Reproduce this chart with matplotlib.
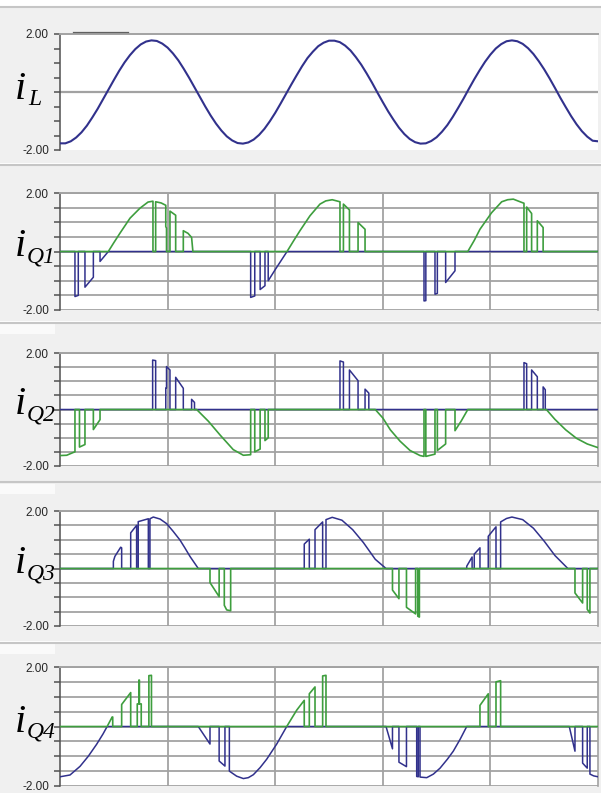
import numpy as np
import matplotlib
matplotlib.use('Agg')
import matplotlib.pyplot as plt
import matplotlib.transforms as mtransforms
from matplotlib.patches import Rectangle
from matplotlib.lines import Line2D

# --- values (time in grid divisions, current in A) ---

# inductor current, sampled every 0.05 division
il_t = np.round(np.arange(0, 101) * 0.05, 2)
il_y = [-1.77, -1.77, -1.70, -1.57, -1.39, -1.16, -0.88, -0.58, -0.25, 0.08,
        0.41, 0.73, 1.02, 1.27, 1.48, 1.64, 1.74, 1.78, 1.76, 1.67,
        1.53, 1.33, 1.09, 0.80, 0.49, 0.16, -0.17, -0.50, -0.81, -1.09,
        -1.33, -1.53, -1.67, -1.76, -1.78, -1.74, -1.64, -1.48, -1.27, -1.01,
        -0.72, -0.40, -0.07, 0.26, 0.58, 0.89, 1.17, 1.39, 1.58, 1.70,
        1.77, 1.77, 1.72, 1.60, 1.43, 1.20, 0.94, 0.64, 0.32, -0.02,
        -0.35, -0.67, -0.96, -1.23, -1.45, -1.62, -1.73, -1.78, -1.77, -1.69,
        -1.56, -1.37, -1.14, -0.86, -0.55, -0.23, 0.11, 0.44, 0.75, 1.04,
        1.29, 1.50, 1.65, 1.75, 1.78, 1.75, 1.66, 1.51, 1.31, 1.06,
        0.78, 0.47, 0.14, -0.20, -0.52, -0.83, -1.11, -1.35, -1.54, -1.68,
        -1.70]

q1_blue = [(0, 0), (0.139, 0), (0.139, -1.54), (0.17, -1.50), (0.17, 0),
           (0.232, 0), (0.232, -1.22), (0.31, -0.88), (0.31, 0), (0.372, 0),
           (0.372, -0.34), (0.449, 0),
           (1.772, 0), (1.772, -1.57), (1.81, -1.52), (1.81, 0), (1.86, 0),
           (1.86, -1.30), (1.905, -1.17), (1.905, 0), (1.935, 0), (1.935, -1.0),
           (2.0, -0.62), (2.11, 0),
           (3.383, 0), (3.383, -1.69), (3.40, -1.68), (3.40, 0), (3.485, 0),
           (3.485, -1.46), (3.507, -1.43), (3.507, 0), (3.584, 0), (3.584, -1.06),
           (3.671, -0.66), (3.671, 0), (5.0, 0)]
q1_green = [(0, 0), (0.449, 0), (0.50, 0.30), (0.558, 0.63), (0.651, 1.14), (0.743, 1.48),
            (0.818, 1.69), (0.864, 1.72), (0.864, 0), (0.889, 0), (0.889, 1.70),
            (0.94, 1.66), (0.983, 1.58), (0.983, 0.85), (0.99, 0.80), (0.99, 0),
            (1.022, 0), (1.022, 1.38), (1.075, 1.24), (1.075, 0), (1.146, 0),
            (1.146, 0.71), (1.19, 0.62), (1.223, 0.48), (1.235, 0),
            (2.11, 0), (2.17, 0.36), (2.23, 0.71), (2.323, 1.22), (2.416, 1.62),
            (2.47, 1.73), (2.53, 1.77), (2.602, 1.70), (2.602, 0), (2.634, 0),
            (2.634, 1.62), (2.69, 1.42), (2.69, 0), (2.77, 0), (2.77, 0.99),
            (2.835, 0.76), (2.835, 0),
            (3.79, 0), (3.85, 0.38), (3.903, 0.76), (4.012, 1.33), (4.105, 1.70),
            (4.16, 1.77), (4.213, 1.79), (4.29, 1.68), (4.312, 1.65), (4.312, 0),
            (4.337, 0), (4.337, 1.52), (4.383, 1.30), (4.383, 0), (4.436, 0),
            (4.436, 1.05), (4.49, 0.82), (4.49, 0), (5.0, 0)]

q2_blue = [(0, 0), (0.861, 0), (0.861, 1.75), (0.889, 1.73), (0.889, 0),
           (0.983, 0), (0.983, 0.76), (0.99, 0.76), (0.99, 1.52), (1.022, 1.40),
           (1.022, 0), (1.075, 0), (1.075, 1.14), (1.146, 0.75), (1.146, 0),
           (1.223, 0), (1.223, 0.36), (1.25, 0.25), (1.25, 0),
           (2.602, 0), (2.602, 1.72), (2.634, 1.68), (2.634, 0), (2.69, 0),
           (2.69, 1.40), (2.77, 1.02), (2.77, 0), (2.835, 0), (2.835, 0.72),
           (2.87, 0.58), (2.87, 0),
           (4.312, 0), (4.312, 1.66), (4.337, 1.62), (4.337, 0), (4.383, 0),
           (4.383, 1.40), (4.436, 1.16), (4.436, 0), (4.49, 0), (4.49, 0.80),
           (4.51, 0.70), (4.51, 0), (5.0, 0)]
q2_green = [(0, -1.63), (0.062, -1.62), (0.124, -1.52), (0.139, -1.50), (0.139, 0),
            (0.181, 0), (0.181, -1.33), (0.232, -1.24), (0.232, 0), (0.31, 0),
            (0.31, -0.71), (0.372, -0.36), (0.372, 0),
            (1.27, 0), (1.38, -0.42), (1.487, -0.90), (1.61, -1.42), (1.704, -1.62),
            (1.772, -1.60), (1.772, 0), (1.81, 0), (1.81, -1.50), (1.86, -1.40),
            (1.86, 0), (1.905, 0), (1.905, -1.10), (1.935, -1.00), (1.935, 0),
            (2.93, 0), (3.0, -0.30), (3.07, -0.72), (3.16, -1.12), (3.253, -1.45),
            (3.346, -1.63), (3.383, -1.66), (3.383, 0), (3.40, 0), (3.40, -1.66),
            (3.485, -1.58), (3.485, 0), (3.507, 0), (3.507, -1.45), (3.584, -1.22),
            (3.584, 0), (3.671, 0), (3.671, -0.75), (3.73, -0.40), (3.79, 0),
            (4.52, 0), (4.6, -0.35), (4.7, -0.72), (4.8, -1.02), (4.9, -1.22),
            (5.0, -1.35)]

q3_blue = [(0, 0), (0.496, 0), (0.496, 0.25), (0.51, 0.42), (0.564, 0.74),
           (0.573, 0.72), (0.573, 0), (0.657, 0), (0.657, 1.24), (0.712, 1.50),
           (0.712, 0), (0.727, 0), (0.727, 1.63), (0.821, 1.73), (0.821, 0),
           (0.836, 0), (0.836, 1.73), (0.867, 1.79), (0.93, 1.72), (0.991, 1.56),
           (1.05, 1.30), (1.115, 0.99), (1.16, 0.72), (1.208, 0.42), (1.285, 0),
           (2.27, 0), (2.27, 0.85), (2.317, 1.02), (2.317, 0), (2.37, 0),
           (2.37, 1.35), (2.441, 1.62), (2.441, 0), (2.472, 0), (2.472, 1.70),
           (2.53, 1.78), (2.62, 1.68), (2.72, 1.35), (2.82, 0.90), (2.93, 0.32),
           (3.03, 0),
           (3.78, 0), (3.78, 0.08), (3.83, 0.40), (3.83, 0), (3.85, 0), (3.85, 0.50),
           (3.903, 0.72), (3.903, 0), (3.98, 0), (3.98, 1.12), (4.052, 1.45),
           (4.052, 0), (4.095, 0), (4.095, 1.62), (4.15, 1.74), (4.2, 1.79),
           (4.3, 1.70), (4.4, 1.40), (4.5, 0.95), (4.6, 0.45), (4.72, 0), (5.0, 0)]
q3_green = [(0, 0), (1.394, 0), (1.394, -0.49), (1.479, -0.98), (1.479, 0),
            (1.527, 0), (1.527, -1.28), (1.549, -1.44), (1.586, -1.47), (1.586, 0),
            (3.09, 0), (3.09, -0.75), (3.15, -1.05), (3.15, 0), (3.22, 0),
            (3.22, -1.35), (3.305, -1.58), (3.305, 0), (3.325, 0), (3.325, -1.66),
            (3.34, -1.69), (3.34, 0),
            (4.786, 0), (4.786, -0.85), (4.857, -1.20), (4.857, 0), (4.9, 0),
            (4.9, -1.42), (4.925, -1.55), (4.925, 0), (5.0, 0)]

q4_blue = [(0, -1.69), (0.093, -1.63), (0.186, -1.34), (0.263, -1.00), (0.34, -0.60),
           (0.40, -0.25), (0.438, 0),
           (1.285, 0), (1.394, -0.59), (1.394, 0), (1.479, 0), (1.479, -1.16),
           (1.533, -1.33), (1.533, 0), (1.574, 0), (1.574, -1.50), (1.642, -1.67),
           (1.704, -1.75), (1.75, -1.72), (1.797, -1.62), (1.86, -1.38), (1.921, -1.10),
           (2.014, -0.59), (2.107, 0),
           (3.03, 0), (3.09, -0.75), (3.09, 0), (3.15, 0), (3.15, -1.20),
           (3.22, -1.35), (3.22, 0), (3.315, 0), (3.315, -1.68), (3.33, -1.69),
           (3.33, 0), (3.346, 0), (3.346, -1.70), (3.408, -1.72), (3.47, -1.60),
           (3.532, -1.40), (3.60, -1.10), (3.655, -0.83), (3.72, -0.42), (3.78, 0),
           (4.733, 0), (4.786, -0.83), (4.786, 0), (4.857, 0), (4.857, -1.23),
           (4.90, -1.40), (4.90, 0), (4.925, 0), (4.925, -1.60), (4.96, -1.66),
           (5.0, -1.69)]
q4_green = [(0, 0), (0.438, 0), (0.485, 0.32), (0.49, 0.32), (0.49, 0),
            (0.573, 0), (0.573, 0.74), (0.657, 1.14), (0.657, 0), (0.718, 0),
            (0.718, 0.76), (0.733, 0.76), (0.733, 1.56), (0.738, 1.56), (0.738, 0.76),
            (0.755, 0.76), (0.755, 0), (0.826, 0), (0.826, 1.71), (0.85, 1.72),
            (0.85, 0),
            (2.107, 0), (2.2, 0.55), (2.27, 0.88), (2.27, 0), (2.317, 0),
            (2.317, 1.10), (2.37, 1.33), (2.37, 0), (2.441, 0), (2.441, 1.70),
            (2.472, 1.72), (2.472, 0),
            (3.903, 0), (3.903, 0.71), (3.98, 1.10), (3.98, 0), (4.052, 0),
            (4.052, 1.50), (4.095, 1.54), (4.095, 0), (5.0, 0)]

subscripts = ['L', 'Q1', 'Q2', 'Q3', 'Q4']
ytick_vals = [-2.0, -1.5, -1.0, -0.5, 0.0, 0.5, 1.0, 1.5, 2.0]
ytick_text = ['-2.00', '', '', '', '', '', '', '', '2.00']
xgrid_vals = [1, 2, 3, 4]

BLUE = '#31318c'
GREEN = '#3e9e3e'
GRID = '#a2a2a2'
PANEL_BG = '#f0f0f0'

W, H = 601, 793
fig = plt.figure(figsize=(W / 100, H / 100), dpi=100, facecolor='white')


def fy(py):
    return 1 - py / H


def fx(px):
    return px / W


# window-like grey bands with separators
bands = [(7, 163), (165, 321), (323, 481), (483, 641), (643, 793)]
for i, (top, bot) in enumerate(bands):
    fig.add_artist(Rectangle((0, fy(bot)), 1, (bot - top) / H, transform=fig.transFigure,
                             facecolor=PANEL_BG, edgecolor='none', zorder=0))
    fig.add_artist(Line2D([0, 1], [fy(top - 0.5), fy(top - 0.5)], transform=fig.transFigure,
                          color='#c6c6c6', lw=1.5, zorder=1))
    if i >= 2:
        fig.add_artist(Rectangle((0, fy(top + 11)), fx(55), 10 / H, transform=fig.transFigure,
                                 facecolor='#fafafa', edgecolor='none', zorder=0.5))

# stray legend stub at top of first panel
fig.add_artist(Line2D([fx(73), fx(128)], [fy(31.5), fy(31.5)], transform=fig.transFigure,
                      color='#606060', lw=0.9, zorder=2))

axes_px = [(34, 150), (193, 310), (353, 466), (511, 626), (667, 786)]
traces = [(list(zip(il_t, il_y)), None), (q1_blue, q1_green), (q2_blue, q2_green),
          (q3_blue, q3_green), (q4_blue, q4_green)]

for k, ((top, bot), (blue, green)) in enumerate(zip(axes_px, traces)):
    ax = fig.add_axes([fx(60), fy(bot), fx(598) - fx(60), (bot - top) / H])
    ax.set_facecolor('white')
    ax.set_xlim(0, 5)
    ax.set_ylim(-2, 2)
    ax.set_yticks(ytick_vals)
    ax.set_yticklabels(ytick_text, family='Liberation Sans', fontsize=8.5, color='#262626')
    ax.tick_params(axis='y', direction='out', length=4.5, width=1.1, color='#505050', pad=3.5)
    ax.tick_params(axis='x', length=0, labelbottom=False)
    ax.spines['left'].set_color('#505050')
    ax.spines['left'].set_linewidth(1.1)
    ax.spines['bottom'].set_visible(False)
    ax.spines['top'].set_color(GRID)
    ax.spines['top'].set_linewidth(1.4)
    if k == 0:
        ax.set_xticks([])
        ax.spines['right'].set_visible(False)
        ax.axhline(0, color=GRID, lw=1.6, zorder=1)
        bt, by = zip(*blue)
        ax.plot(bt, by, color=BLUE, lw=1.5, zorder=3)
    else:
        ax.set_xticks(xgrid_vals)
        ax.spines['right'].set_color(GRID)
        ax.spines['right'].set_linewidth(1.2)
        ax.grid(True, color=GRID, lw=1.3, zorder=1)
        ax.set_axisbelow(True)
        bt, by = zip(*blue)
        gt, gy = zip(*green)
        ax.plot(bt, by, color=BLUE, lw=1.1, zorder=3)
        ax.plot(gt, gy, color=GREEN, lw=1.2, zorder=4)

    # italic serif label to the left
    trans = mtransforms.blended_transform_factory(fig.transFigure, ax.transData)
    i_base = -0.24 if k == 0 else -0.17
    s_base = -0.45 if k == 0 else -0.38
    s_x = 28 if k == 0 else 26.5
    ax.text(fx(15), i_base, 'i', transform=trans, family='Liberation Serif', style='italic',
            fontsize=29, va='baseline', ha='left', color='black', clip_on=False)
    ax.text(fx(s_x), s_base, subscripts[k], transform=trans, family='Liberation Serif',
            style='italic', fontsize=17, va='baseline', ha='left', color='black', clip_on=False)

fig.savefig('out.png', dpi=100, facecolor='white')
